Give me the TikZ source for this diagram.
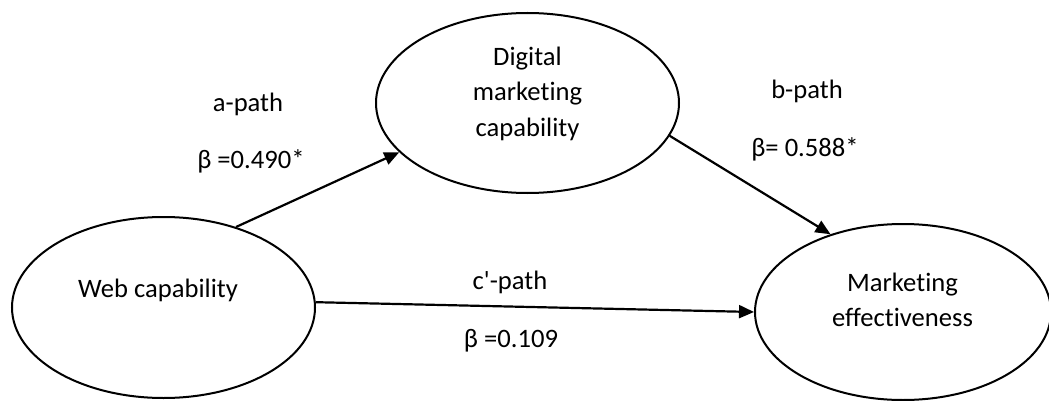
\documentclass[tikz,border=0pt]{standalone}
\usepackage{fontspec}
\setmainfont{Carlito}[Ligatures=CommonOff]
\usetikzlibrary{shapes.geometric,arrows.meta}
\begin{document}
\begin{tikzpicture}[x=0.5pt,y=-0.5pt,
  latent/.style={draw, ellipse, line width=1pt, inner sep=0pt},
  lbl/.style={font=\fontsize{13.3}{17.75}\selectfont, anchor=base, inner sep=0pt, align=center},
  patharrow/.style={line width=1.1pt, -{Triangle[length=7.5pt,width=6.5pt]}}]
\useasboundingbox (0,0) rectangle (1049,401);
% constructs
\node[latent, minimum width=151.5pt, minimum height=90.5pt] (web) at (163.5,307.5) {};
\node[latent, minimum width=151.5pt, minimum height=90pt] (dig) at (527.5,103) {};
\node[latent, minimum width=148pt, minimum height=88pt] (mkt) at (903,312) {};
% construct texts (base anchor = baseline of last line)
\node[lbl] (webtxt) at (158,297) {Web capability};
\node[lbl] (digtxt) at (527.5,136.5) {Digital\\marketing\\capability};
\node[lbl] (mkttxt) at (902.5,326.7) {Marketing\\effectiveness};
% paths
\draw[patharrow] (web.48) -- (dig.201);
\draw[patharrow] (dig.-13) -- (mkt.133);
\draw[patharrow] (web.2) -- (mkt.west);
% path labels
\node[lbl] (apath) at (248,112) {a-path};
\node[lbl] (abeta) at (251,169) {β =0.490*};
\node[lbl] (bpath) at (807,99) {b-path};
\node[lbl] (bbeta) at (805,156) {β= 0.588*};
\node[lbl] (cpath) at (510,289) {c\textquotesingle-path};
\node[lbl] (cbeta) at (511,347) {β =0.109};
\end{tikzpicture}
\end{document}
